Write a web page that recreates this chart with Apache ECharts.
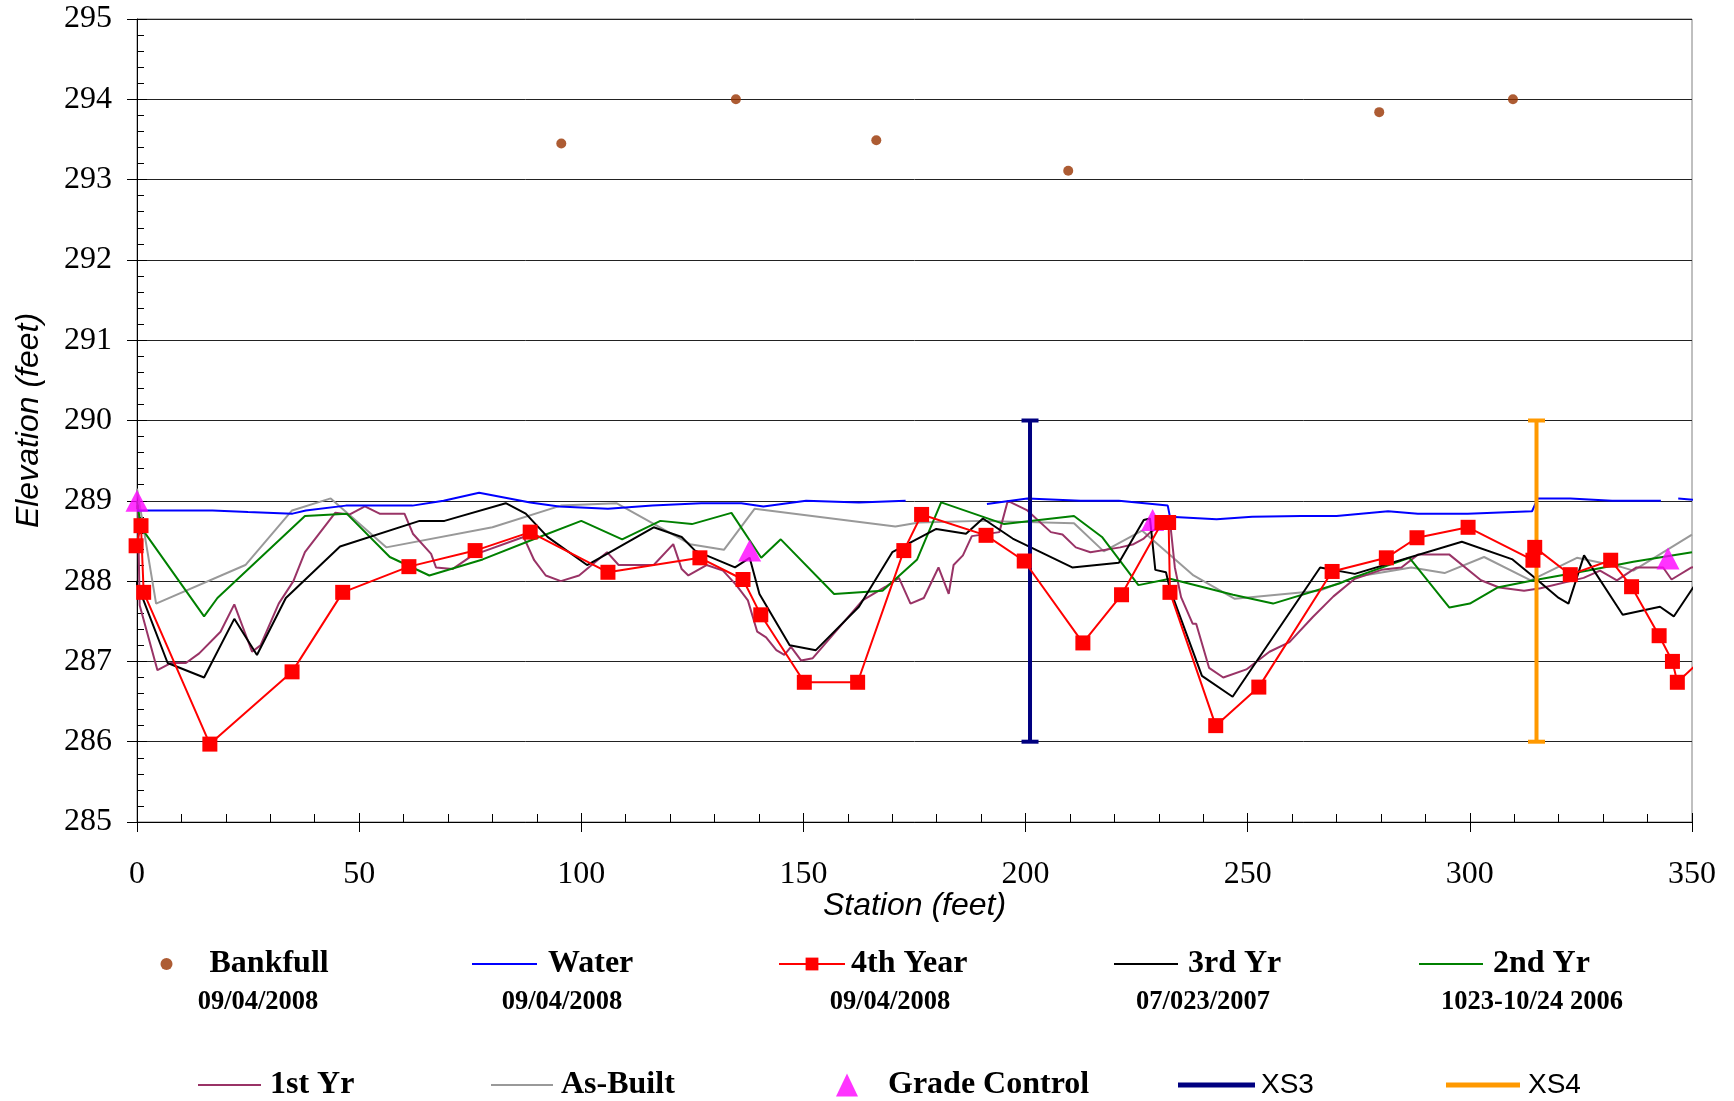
<!DOCTYPE html>
<html>
<head>
<meta charset="utf-8">
<script src="https://cdn.jsdelivr.net/npm/echarts@6/dist/echarts.min.js"></script>
<style>
html,body{margin:0;padding:0;background:#fff;}
#c{width:1734px;height:1101px;}
</style>
</head>
<body>
<div id="c"></div>
<script>
// ---------- data ----------
const xTicks = [0, 50, 100, 150, 200, 250, 300, 350];
const yTicks = [285, 286, 287, 288, 289, 290, 291, 292, 293, 294, 295];

const bankfull = [[95.5,293.45],[134.8,294.0],[166.4,293.49],[209.6,293.11],[279.6,293.84],[309.7,294.0]];

const water = [[0,288.88],[17,288.88],[25,288.86],[35,288.84],[38,288.88],[47,288.94],[62,288.94],[69,289.0],[77,289.1],[88.5,288.98],[95,288.93],[106,288.9],[116,288.94],[127,288.97],[136,288.97],[141,288.93],[150.6,289.0],[162.5,288.98],[173,289.0],[182,null],[191.3,288.96],[200.4,289.03],[212.4,289.0],[221,289.0],[232,288.94],[232.5,288.8],[243,288.77],[251,288.8],[262,288.81],[270,288.81],[281.6,288.87],[288.3,288.84],[299.5,288.84],[314,288.87],[315.3,289.03],[322.6,289.03],[332,289.0],[343,289.0],[345,null],[346.9,289.03],[352.8,289.0]];

const year4 = [[-0.2,288.44],[0.9,288.69],[1.5,287.86],[16.4,285.97],[34.9,286.87],[46.3,287.86],[61.2,288.18],[76.1,288.38],[88.5,288.61],[106,288.11],[126.7,288.29],[136.4,288.02],[140.4,287.58],[150.2,286.74],[162.2,286.74],[172.6,288.38],[176.6,288.83],[191.1,288.57],[199.7,288.25],[212.9,287.23],[221.6,287.83],[230.7,288.73],[232.2,288.73],[232.5,287.86],[242.8,286.2],[252.5,286.68],[269,288.12],[281.2,288.29],[288.1,288.54],[299.6,288.67],[314.2,288.26],[314.6,288.42],[322.6,288.08],[331.7,288.26],[336.4,287.93],[342.6,287.32],[345.6,287.0],[346.7,286.74],[351.7,287.0],[353,287.0]];

const year3 = [[-2.1,288.04],[-1,288.07],[0.5,287.9],[6.9,286.98],[15.1,286.8],[21.9,287.53],[27,287.08],[33.5,287.79],[45.7,288.43],[63.6,288.75],[69.2,288.75],[83,288.97],[87.5,288.84],[92.4,288.55],[101.3,288.2],[105.8,288.34],[116.3,288.67],[122.6,288.55],[125.6,288.38],[134.6,288.17],[137.9,288.29],[140.1,287.84],[146.9,287.2],[152.8,287.14],[162.5,287.68],[170,288.36],[179.9,288.65],[186.6,288.59],[190.4,288.78],[197.1,288.53],[210.5,288.17],[221,288.23],[226.6,288.76],[228,288.78],[229.2,288.14],[231.6,288.11],[232.5,287.9],[239.7,286.82],[246.6,286.56],[266.3,288.17],[274.1,288.09],[298.2,288.49],[309.6,288.27],[314.4,288.05],[320,287.79],[322.2,287.72],[325.7,288.32],[334.4,287.58],[342.8,287.68],[345.9,287.56],[351.7,288.04],[353,288.0]];

const year2 = [[0,289.0],[0.9,288.67],[15.1,287.56],[18.1,287.79],[37.8,288.81],[47.2,288.84],[56.9,288.3],[65.8,288.07],[77.8,288.27],[89.7,288.53],[100,288.75],[109.2,288.52],[117.8,288.75],[124.9,288.71],[133.8,288.85],[140.5,288.29],[144.9,288.52],[156.9,287.84],[167.8,287.88],[175.6,288.27],[181,288.98],[195.2,288.71],[210.9,288.81],[217.2,288.55],[225.4,287.95],[232.5,288.03],[246.7,287.83],[255.7,287.72],[270.6,287.97],[274.1,288.05],[286.4,288.29],[295.4,287.67],[300,287.72],[306.2,287.92],[314.4,288.01],[326.3,288.13],[336.8,288.24],[350,288.36]];

const year1 = [[-2.1,288.72],[-1,288.85],[0.2,288.95],[0.6,287.7],[4.6,286.89],[7.6,286.98],[11,286.98],[14,287.1],[18.8,287.37],[21.9,287.71],[25.9,287.12],[27.8,287.2],[31.9,287.72],[35.2,288.0],[37.8,288.36],[44.6,288.85],[47.9,288.83],[51.3,288.93],[54.6,288.84],[60.2,288.84],[62.1,288.59],[66.2,288.34],[67.3,288.17],[71,288.15],[75.5,288.32],[87,288.55],[89.4,288.26],[92,288.07],[95.4,288.0],[99.5,288.07],[105.8,288.36],[108.4,288.2],[116.3,288.2],[120.7,288.46],[122.6,288.15],[124.1,288.07],[128.2,288.2],[131.9,288.13],[134.9,287.95],[137.5,287.76],[139.6,287.37],[141.6,287.3],[143.9,287.14],[145.7,287.08],[147.2,287.18],[149.5,287.01],[152.1,287.04],[163.3,287.76],[168.5,287.93],[171.5,288.04],[174.1,287.72],[177.1,287.79],[180.4,288.17],[182.7,287.84],[183.8,288.2],[185.9,288.32],[187.9,288.56],[194.1,288.61],[196,289.0],[200.4,288.88],[205.7,288.61],[208.3,288.58],[211.3,288.42],[214.6,288.36],[221.3,288.42],[224.3,288.46],[226.6,288.53],[228.1,288.61],[232.5,288.75],[233.6,288.17],[235,287.8],[237.6,287.47],[238.4,287.47],[241.3,286.92],[244.5,286.8],[249.7,286.9],[254.9,287.12],[259.4,287.24],[264.6,287.55],[269.3,287.81],[274.1,288.03],[280.1,288.14],[284.6,288.17],[288.3,288.33],[295.4,288.33],[302.5,288.01],[306.6,287.92],[312.2,287.88],[315.9,287.91],[325.6,288.04],[329.3,288.13],[333.1,288.01],[337.5,288.17],[343.5,288.17],[345.4,288.02],[349.9,288.17],[352.8,288.18]];

const asBuilt = [[0,289.15],[4.3,287.72],[24.4,288.2],[34.9,288.88],[43.6,289.03],[56.1,288.42],[80,288.67],[95.4,288.94],[107.9,288.97],[124.5,288.46],[132.1,288.39],[139,288.9],[170.7,288.68],[176,288.73],[190,288.75],[210.9,288.72],[217.6,288.37],[226.2,288.63],[237.8,288.07],[247.1,287.78],[266.1,287.88],[274.1,288.05],[286.8,288.17],[294.3,288.1],[303.2,288.3],[313.7,288.01],[324.1,288.29],[333.8,288.18],[336.8,288.13],[350,288.58]];

const gradeControl = [[0,289.0],[137.9,288.38],[228.6,288.76],[344.6,288.28]];

const xs3 = [[201,286],[201,290]];
const xs4 = [[315,286],[315,290]];

const seriesNames = ['Bankfull','Water','4th Year','3rd Yr','2nd Yr','1st Yr','As-Built','Grade Control','XS3','XS4'];
const legendDates = ['09/04/2008','09/04/2008','09/04/2008','07/023/2007','1023-10/24 2006'];

// ---------- styling ----------
const SERIF = '"Liberation Serif","Times New Roman",serif';
const SANS = '"Liberation Sans",Arial,sans-serif';
const X_MIN = 0, X_MAX = 350;
const Y_MIN = 285, Y_MAX = 295;

const gridBox = {left: 137, right: 42, top: 19, bottom: 279};

// markers outside the plot area are not drawn (as in the reference)
const year4Items = year4.map(p => p[0] > X_MAX ? {value: p, symbol: 'none'} : p);

function legendItem(name, left, cy, w, h, padL, icon, font) {
  const item = {name: name};
  if (icon) item.icon = icon;
  return {
    data: [item], left: left, top: cy - 16, orient: 'horizontal',
    itemWidth: w, itemHeight: h, padding: 0, selectedMode: false,
    textStyle: Object.assign({
      fontFamily: SERIF, fontWeight: 'bold', fontSize: 32, lineHeight: 32,
      color: '#000', padding: [0, 0, 0, padL]
    }, font || {})
  };
}

const row1 = 964, row2 = 1085;
const xsFont = {fontFamily: SANS, fontWeight: 'normal', fontSize: 28};
const legends = [
  legendItem(seriesNames[0], 160.5, row1, 12, 12, 32, 'circle'),
  legendItem(seriesNames[1], 472, row1, 65, 2, 6, 'rect'),
  legendItem(seriesNames[2], 778, row1, 66, 16, 1),
  legendItem(seriesNames[3], 1114, row1, 64, 2, 5, 'rect'),
  legendItem(seriesNames[4], 1419, row1, 64, 2, 5, 'rect'),
  legendItem(seriesNames[5], 198, row2, 63, 2, 4, 'rect'),
  legendItem(seriesNames[6], 491, row2, 62, 2, 3, 'rect'),
  legendItem(seriesNames[7], 836, row2, 22, 23, 25, 'triangle'),
  legendItem(seriesNames[8], 1178, row2, 77, 5, 1, 'rect', xsFont),
  legendItem(seriesNames[9], 1446, row2, 74, 5, 3, 'rect', xsFont)
];

const dateX = [258, 562, 890, 1203, 1532];
const dateGraphics = legendDates.map((d, i) => ({
  type: 'text', x: dateX[i], y: 1002, silent: true,
  style: {text: d, fontFamily: SERIF, fontWeight: 'bold', fontSize: 26.5,
          fill: '#000', align: 'center', verticalAlign: 'middle'}
}));

function lineSeries(name, data, color, z) {
  return {name: name, type: 'line', data: data, symbol: 'none', clip: false,
          connectNulls: false, z: z,
          lineStyle: {color: color, width: 2}, itemStyle: {color: color}};
}

const option = {
  animation: false,
  backgroundColor: '#fff',
  grid: [
    Object.assign({show: true, borderColor: '#808080', borderWidth: 1, backgroundColor: 'transparent'}, gridBox),
    Object.assign({show: false}, gridBox)
  ],
  xAxis: [
    {
      type: 'value', gridIndex: 0, min: X_MIN, max: X_MAX, interval: xTicks[1] - xTicks[0],
      axisLine: {show: true, onZero: false, lineStyle: {color: '#000', width: 1}},
      axisTick: {show: true, length: 10, lineStyle: {color: '#000'}},
      axisLabel: {margin: 37, fontFamily: SERIF, fontSize: 32, color: '#000'},
      splitLine: {show: false},
      name: 'Station (feet)', nameLocation: 'middle', nameGap: 68, nameMoveOverlap: false,
      nameTextStyle: {fontFamily: SANS, fontStyle: 'italic', fontSize: 32, color: '#000'}
    },
    {
      type: 'value', gridIndex: 1, min: X_MIN, max: X_MAX, interval: xTicks[1] - xTicks[0],
      axisLine: {show: false, onZero: false},
      axisTick: {show: true, inside: true, length: 9, lineStyle: {color: '#000'}},
      minorTick: {show: true, splitNumber: 5, length: 8, lineStyle: {color: '#000'}},
      axisLabel: {show: false}, splitLine: {show: false}
    }
  ],
  yAxis: [
    {
      type: 'value', gridIndex: 0, min: Y_MIN, max: Y_MAX, interval: yTicks[1] - yTicks[0],
      axisLine: {show: true, onZero: false, lineStyle: {color: '#000', width: 1}},
      axisTick: {show: true, length: 10, lineStyle: {color: '#000'}},
      axisLabel: {margin: 25, fontFamily: SERIF, fontSize: 32, color: '#000'},
      splitLine: {show: true, lineStyle: {color: '#222', width: 1}},
      name: 'Elevation (feet)', nameLocation: 'middle', nameGap: 92,
      nameTextStyle: {fontFamily: SANS, fontStyle: 'italic', fontSize: 32, color: '#000'}
    },
    {
      type: 'value', gridIndex: 1, min: Y_MIN, max: Y_MAX, interval: yTicks[1] - yTicks[0],
      axisLine: {show: false, onZero: false},
      axisTick: {show: true, inside: true, length: 10, lineStyle: {color: '#000'}},
      minorTick: {show: true, splitNumber: 5, length: 7, lineStyle: {color: '#000'}},
      axisLabel: {show: false}, splitLine: {show: false}
    }
  ],
  legend: legends,
  graphic: dateGraphics,
  series: [
    lineSeries(seriesNames[6], asBuilt, '#999999', 2),
    lineSeries(seriesNames[5], year1, '#993366', 3),
    lineSeries(seriesNames[4], year2, '#008000', 4),
    lineSeries(seriesNames[3], year3, '#000000', 5),
    lineSeries(seriesNames[1], water, '#0000ff', 6),
    {name: seriesNames[8], type: 'line', data: xs3, symbol: 'rect', symbolSize: [17, 4], z: 7,
     lineStyle: {color: '#000080', width: 4}, itemStyle: {color: '#000080'}},
    {name: seriesNames[9], type: 'line', data: xs4, symbol: 'rect', symbolSize: [17, 4], z: 7,
     lineStyle: {color: '#ff9900', width: 4}, itemStyle: {color: '#ff9900'}},
    {name: seriesNames[7], type: 'scatter', data: gradeControl, symbol: 'triangle', symbolSize: [23, 22], z: 8,
     itemStyle: {color: '#ff00ff'}},
    {name: seriesNames[2], type: 'line', data: year4Items, symbol: 'rect', symbolSize: 15, showSymbol: true,
     showAllSymbol: true, clip: false, z: 9,
     lineStyle: {color: '#ff0000', width: 2}, itemStyle: {color: '#ff0000'}},
    {name: seriesNames[0], type: 'scatter', data: bankfull, symbol: 'circle', symbolSize: 10, z: 10,
     itemStyle: {color: '#993300'}}
  ]
};

const chart = echarts.init(document.getElementById('c'));
chart.setOption(option);
</script>
</body>
</html>
